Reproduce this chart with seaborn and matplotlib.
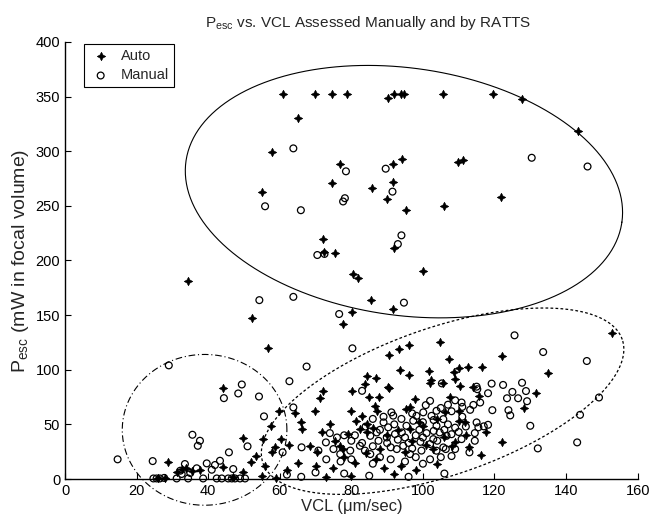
import numpy as np
import matplotlib
matplotlib.use("Agg")
import matplotlib.pyplot as plt
import seaborn as sns

# ---------------- data ----------------
auto_vcl = [60.8, 69.9, 74.5, 78.9, 90.3, 92.0, 94.0, 94.8, 105.5, 119.6, 127.6, 143.4,
            65.2, 57.8, 76.8, 91.7, 94.2, 109.9, 111.1, 74.5, 85.8, 91.7, 55.0, 90.1,
            121.7, 95.4, 105.9, 72.0, 72.5, 75.5, 92.0, 80.5, 82.0, 100.0, 85.4, 91.7,
            80.3, 77.6, 34.4, 52.2, 56.8, 44.2,
            104.9, 107.2, 96.0, 93.3, 90.6, 122.1, 93.5, 101.8, 96.0, 102.2, 116.4, 112.7,
            110.1, 108.7, 135.0, 152.9, 84.3, 87.0, 105.7, 102.0, 109.0, 110.5, 113.9, 90.2,
            83.8, 90.4, 80.1, 72.2, 71.2, 85.0, 87.8, 107.5, 115.7, 131.5, 97.8, 96.3,
            95.4, 86.6, 87.1, 79.8, 69.8, 59.9, 64.4, 128.2, 106.1, 65.8, 66.3, 74.0,
            71.8, 81.3, 84.4, 100.1, 111.7, 110.0, 57.5, 79.1, 82.4, 84.3, 96.4, 117.5,
            55.4, 60.4, 62.7, 75.4, 76.8, 77.7, 88.0, 68.4, 70.3, 57.7, 58.7, 108.9,
            122.1, 102.9, 116.1,
            78, 81, 84, 87, 90, 93, 95, 97, 99, 101, 104, 106, 108, 110, 112, 113, 89, 92,
            75, 70, 65, 62, 56, 83, 86, 94, 98, 104, 80, 73,
            49.6, 51.9, 53.5, 31.2, 32.6, 33.8, 35.4, 37.7, 44.2, 49.8, 28.9, 26.0, 28.0,
            47.0, 55.0, 59.0]
auto_pesc = [352.5, 352.5, 352.0, 352.5, 348.6, 352.5, 352.5, 352.5, 352.5, 352.5, 348.0, 318.7,
             330.0, 299.0, 288.6, 288.3, 292.5, 290.0, 292.2, 270.6, 266.0, 272.0, 263.0, 256.0,
             257.8, 246.0, 250.0, 220.0, 208.0, 207.0, 211.0, 188.0, 184.0, 190.0, 164.0, 155.6,
             153.0, 141.8, 181.0, 147.7, 119.6, 83.1,
             125.7, 109.6, 122.6, 119.3, 113.5, 112.6, 99.8, 98.6, 95.0, 90.7, 102.9, 102.9,
             101.4, 98.0, 97.4, 134.0, 94.3, 92.5, 88.3, 88.3, 91.3, 85.3, 84.0, 84.3,
             86.8, 83.3, 80.6, 80.7, 73.7, 75.5, 75.5, 75.3, 76.1, 78.3, 73.2, 65.8,
             63.9, 66.9, 62.4, 61.8, 62.4, 62.4, 60.6, 64.6, 61.0, 52.3, 45.7, 50.2,
             42.6, 53.3, 50.2, 48.7, 51.8, 53.0, 48.1, 41.1, 45.7, 42.6, 45.7, 42.6,
             36.5, 36.5, 31.3, 35.0, 30.4, 27.4, 27.4, 30.4, 24.4, 24.4, 28.9, 34.1,
             33.5, 27.4, 22.2,
             20, 15, 24, 18, 40, 45, 25, 35, 52, 31, 55, 38, 30, 62, 40, 29, 10, 5,
             10, 12, 15, 8, 12, 58, 47, 12, 8, 14, 3, 2,
             37.2, 15.2, 20.7, 6.7, 9.1, 9.8, 7.6, 8.5, 10.7, 6.7, 15.8, 1.0, 0.5,
             2.0, 3.0, 1.0]

manual_vcl = [63.8, 78.5, 78.2, 77.7, 55.9, 65.9, 89.6, 91.5, 130.4, 146.0, 70.5, 72.5,
              93.0, 94.0, 94.7, 54.3, 63.8, 76.6,
              80.3, 67.5, 62.7, 54.2, 55.6, 63.8, 29.0, 44.4, 48.4, 49.4, 35.6, 37.7,
              37.1, 45.8, 51.0, 14.7, 24.5, 33.5, 36.8, 35.0, 32.2, 32.6, 47.0, 41.0,
              39.6, 41.9, 43.3, 24.7, 25.6, 26.5, 27.7, 31.2, 34.4, 38.6, 42.4, 43.8,
              45.6, 46.6, 47.5, 48.9, 50.3,
              83.0, 105.3, 102.0, 100.8, 103.8, 105.7, 102.4, 91.2, 91.7, 72.9, 99.3, 99.6,
              60.8, 66.1, 70.8, 75.0, 76.9, 79.7, 82.4, 83.8, 85.3, 92.7, 94.5, 96.4,
              89.0, 90.3, 87.1, 85.3, 87.6, 89.9, 92.2, 94.1, 95.4, 97.3, 98.2, 100.1,
              103.8, 104.7, 106.6, 102.9, 105.7, 110.8, 115.0, 116.0, 114.1, 113.2, 118.2, 117.0,
              115.0, 115.5, 114.5, 114.5, 113.0, 109.0, 106.4, 103.8, 110.8, 115.2, 118.2, 119.2,
              127.7, 128.8, 122.4, 125.0, 126.6, 123.5, 129.1, 149.2, 143.9, 130.0, 123.9, 124.4,
              119.4, 143.1, 132.1, 125.6, 133.6, 145.8,
              80, 81, 83, 86, 88, 90, 91, 93, 95, 96, 97, 98, 99, 100, 101, 102, 103, 104,
              106, 107, 108, 109, 110, 111, 112, 108, 107, 105, 109, 111, 103, 100, 97, 94,
              92, 89, 86, 84, 78, 76, 74, 88, 91, 95, 98, 100, 86, 80, 77, 73, 102, 105,
              108, 62, 66, 70, 78, 85, 96, 106]
manual_pesc = [302.6, 281.6, 257.0, 254.0, 249.6, 246.0, 284.0, 263.0, 294.0, 286.0, 205.0, 206.0,
               215.0, 223.0, 161.4, 163.7, 166.7, 151.0,
               119.6, 102.9, 89.5, 75.5, 57.3, 65.5, 104.0, 74.0, 78.3, 86.5, 40.5, 35.0,
               30.4, 24.4, 29.9, 18.0, 16.4, 13.7, 9.8, 5.5, 7.6, 4.6, 9.1, 8.5,
               14.3, 12.8, 16.7, 0.5, 0.5, 0.5, 1.0, 0.5, 0.5, 0.5, 0.5, 0.5,
               0.5, 0.5, 0.5, 0.5, 0.5,
               80.7, 87.5, 71.5, 67.6, 62.4, 54.8, 57.8, 61.0, 58.0, 33.5, 34.0, 26.0,
               24.4, 29.0, 26.0, 27.4, 22.8, 26.0, 30.4, 26.0, 22.8, 27.4, 30.4, 22.8,
               51.8, 47.3, 42.6, 39.5, 35.0, 38.0, 41.1, 42.6, 48.7, 53.3, 57.8, 61.0,
               48.7, 42.6, 39.5, 36.5, 28.9, 70.0, 84.5, 70.0, 67.8, 63.3, 49.6, 48.2,
               51.8, 47.3, 42.0, 35.0, 24.4, 27.4, 27.4, 25.9, 36.5, 82.2, 78.5, 87.3,
               88.1, 80.5, 86.1, 79.7, 73.9, 73.9, 71.2, 74.6, 58.7, 48.7, 63.0, 58.2,
               63.0, 33.5, 28.0, 131.5, 116.2, 108.0,
               35, 40, 33, 30, 45, 33, 29, 36, 38, 33, 28, 40, 45, 38, 42, 32, 44, 35,
               45, 50, 41, 47, 43, 57, 48, 62, 68, 65, 72, 66, 54, 52, 60, 55,
               50, 57, 55, 48, 40, 38, 42, 20, 18, 16, 20, 14, 14, 18, 16, 18, 18, 20,
               21, 4, 2, 6, 5, 3, 2, 5]

x_ticks = [0, 20, 40, 60, 80, 100, 120, 140, 160]
y_ticks = [0, 50, 100, 150, 200, 250, 300, 350, 400]

# ---------------- style ----------------
sns.set_style("ticks")
plt.rcParams["font.family"] = ["Liberation Sans", "DejaVu Sans"]
plt.rcParams["mathtext.default"] = "regular"

fig = plt.figure(figsize=(6.5, 5.16), dpi=100)
ax = fig.add_axes([0.1, 0.0717, 0.881, 0.847])

sns.scatterplot(x=auto_vcl, y=auto_pesc, marker=(4, 1, 0), color="black",
                s=38, linewidth=0.4, edgecolor="black", ax=ax, label="Auto",
                clip_on=False, zorder=3)
sns.scatterplot(x=manual_vcl, y=manual_pesc, marker="o", color="black",
                s=24, linewidth=0.9, edgecolor="black", ax=ax, label="Manual",
                clip_on=False, zorder=3)
ax.collections[1].set_facecolor("none")

# hand-drawn grouping ellipses (annotations)
t = np.linspace(0, 2 * np.pi, 500)
def ell(c, u, v, **kw):
    ax.plot(c[0] + u[0] * np.cos(t) + v[0] * np.sin(t),
            c[1] + u[1] * np.cos(t) + v[1] * np.sin(t),
            color="black", clip_on=False, zorder=2, **kw)

ell((94.7, 263.0), (60.9, -27.9), (4.8, 112.1), lw=0.8, ls="-")
ell((39.0, 45.0), (23.0, 0.0), (0.0, 69.0), lw=0.8, ls=(0, (6, 2.5, 1, 2.5)))
ell((105.5, 71.2), (50.2, 56.5), (-6.7, 63.9), lw=0.9, ls=(0, (2.2, 1.8)))

ax.set_xlim(0, 160)
ax.set_ylim(0, 400)
ax.set_xticks(x_ticks)
ax.set_yticks(y_ticks)
ax.tick_params(direction="in", length=4, width=0.8, labelsize=10.5, colors="black")
for side in ("top", "right"):
    ax.spines[side].set_visible(False)
for side in ("left", "bottom"):
    ax.spines[side].set_linewidth(1.0)
    ax.spines[side].set_color("black")

ax.set_xlabel("VCL (\u03bcm/sec)", fontsize=12, labelpad=1)
ax.set_ylabel("P$_{esc}$ (mW in focal volume)", fontsize=14, labelpad=3)
ax.set_title("P$_{esc}$ vs. VCL Assessed Manually and by RATTS", fontsize=11, pad=11,
             x=0.53)

leg = ax.legend(loc="upper left", bbox_to_anchor=(0.033, 0.995), borderaxespad=0,
                frameon=True, fancybox=False, edgecolor="black", framealpha=1,
                fontsize=10.5, handletextpad=0.6, borderpad=0.35, labelspacing=0.35,
                handlelength=1.6)
leg.get_frame().set_linewidth(0.8)
leg.legend_handles[1].set_facecolor("none")

fig.savefig("out.png", dpi=100)
